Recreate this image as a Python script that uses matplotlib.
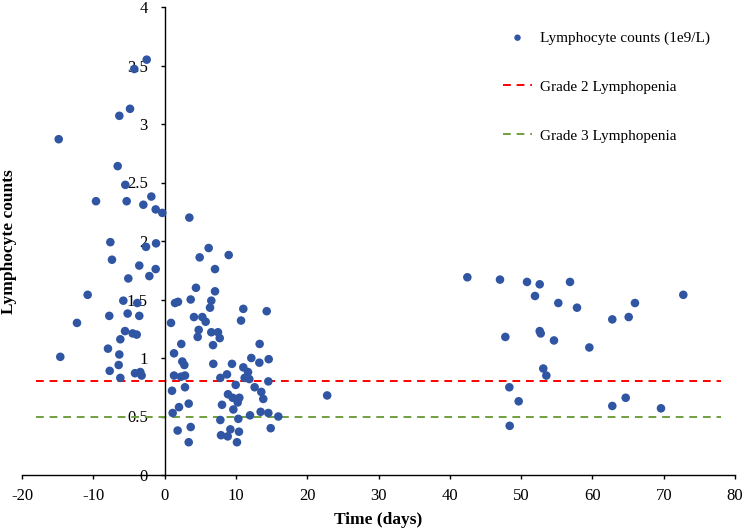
import matplotlib
matplotlib.use('Agg')
import matplotlib.pyplot as plt

# time (days) and lymphocyte counts
days = [-14.85, -14.63, -12.29, -10.79, -9.62, -7.94, -7.76, -7.70, -7.61, -7.38,
        -6.58, -6.44, -6.35, -6.35, -6.21, -6.21, -5.79, -5.55, -5.51, -5.32,
        -5.18, -5.09, -4.85, -4.48, -4.25, -4.15, -3.91, -3.83, -3.55, -3.55,
        -3.41, -3.22, -2.98, -2.61, -2.51, -2.14, -1.86, -1.25, -1.25, -1.20,
        -0.32, 0.90, 1.04, 1.13, 1.32, 1.32, 1.46, 1.83, 1.88, 2.02,
        2.30, 2.34, 2.48, 2.77, 2.86, 2.86, 3.38, 3.38, 3.47, 3.66,
        3.66, 4.12, 4.40, 4.64, 4.78, 4.92, 5.29, 5.76, 6.18, 6.37,
        6.55, 6.55, 6.79, 6.83, 7.07, 7.07, 7.49, 7.73, 7.82, 7.82,
        7.91, 8.05, 8.75, 8.85, 8.89, 8.99, 9.22, 9.45, 9.55, 9.64,
        9.97, 10.15, 10.25, 10.34, 10.43, 10.48, 10.72, 11.04, 11.04, 11.23,
        11.70, 11.88, 11.98, 12.16, 12.63, 13.29, 13.33, 13.47, 13.56, 13.84,
        14.32, 14.55, 14.55, 14.60, 14.88, 15.95, 22.8, 42.46, 47.04, 47.79,
        48.35, 48.40, 49.66, 50.83, 51.95, 52.61, 52.61, 52.75, 53.11, 53.54,
        54.61, 55.22, 56.86, 57.84, 59.57, 62.79, 62.79, 64.67, 65.09, 65.97,
        69.62, 72.75]
counts = [2.87, 1.01, 1.30, 1.54, 2.34, 1.08, 1.36, 0.89, 1.99, 1.84,
          2.64, 0.94, 3.07, 1.03, 1.16, 0.83, 1.49, 1.23, 2.48, 2.34,
          1.38, 1.68, 3.13, 1.21, 3.47, 0.87, 1.20, 1.47, 1.79, 1.36,
          0.88, 0.85, 2.31, 1.95, 3.55, 1.70, 2.38, 2.27, 1.76, 1.98,
          2.24, 1.30, 0.72, 0.53, 1.04, 0.85, 1.47, 0.38, 1.48, 0.58,
          0.84, 1.12, 0.97, 0.94, 0.85, 0.75, 0.61, 0.28, 2.20, 1.50,
          0.41, 1.35, 1.60, 1.18, 1.24, 1.86, 1.35, 1.31, 1.94, 1.43,
          1.49, 1.22, 1.11, 0.95, 1.76, 1.57, 1.22, 1.17, 0.83, 0.47,
          0.34, 0.60, 0.86, 0.33, 0.69, 1.88, 0.39, 0.95, 0.66, 0.56,
          0.77, 0.28, 0.62, 0.48, 0.37, 0.66, 1.32, 1.42, 0.92, 0.83,
          0.88, 0.82, 0.51, 1.00, 0.75, 0.96, 1.12, 0.54, 0.71, 0.65,
          1.40, 0.80, 0.53, 0.99, 0.40, 0.50, 0.68, 1.69, 1.67, 1.18,
          0.75, 0.42, 0.63, 1.65, 1.53, 1.63, 1.23, 1.21, 0.91, 0.85,
          1.15, 1.47, 1.65, 1.43, 1.09, 1.33, 0.59, 0.66, 1.35, 1.47,
          0.57, 1.54]

grade2 = 0.8
grade3 = 0.5
line_span = [-18, 78]
x_ticks = [-20, -10, 0, 10, 20, 30, 40, 50, 60, 70, 80]
y_ticks = [0, 0.5, 1, 1.5, 2, 2.5, 3, 3.5, 4]
y_tick_labels = ['0', '0.5', '1', '1.5', '2', '2.5', '3', '3.5', '4']

plt.rcParams['font.family'] = ['Liberation Serif', 'DejaVu Serif']
plt.rcParams['axes.unicode_minus'] = False

fig = plt.figure(figsize=(7.45, 5.31), dpi=100)
ax = fig.add_axes([22 / 745, 1 - 475 / 531, (735 - 22) / 745, (475 - 7) / 531])

ax.scatter(days, counts, s=38, color='#2F55A3', edgecolors='none', zorder=3,
           label='Lymphocyte counts (1e9/L)')
ax.plot(line_span, [grade2, grade2], color='#FF0000', lw=1.4, dashes=(4, 3),
        label='Grade 2 Lymphopenia')
ax.plot(line_span, [grade3, grade3], color='#70A040', lw=1.4, dashes=(4, 3),
        label='Grade 3 Lymphopenia')

ax.set_xlim(-20, 80)
ax.set_ylim(0, 4)
ax.set_xticks(x_ticks)
ax.set_xticklabels([str(t) for t in x_ticks])
ax.set_yticks(y_ticks)
ax.set_yticklabels(y_tick_labels)
ax.spines['left'].set_position(('data', 0))
ax.spines['top'].set_visible(False)
ax.spines['right'].set_visible(False)
for s in ['left', 'bottom']:
    ax.spines[s].set_linewidth(1.0)
ax.tick_params(direction='out', length=3, width=1.0, labelsize=12)
ax.tick_params(axis='x', pad=6)
ax.tick_params(axis='y', pad=9)

ax.set_xlabel('Time (days)', fontsize=12.5, fontweight='bold', labelpad=6)
fig.text(9.5 / 745, 1 - 242 / 531, 'Lymphocyte counts', rotation=90,
         fontsize=12.5, fontweight='bold', ha='center', va='center')

leg = ax.legend(loc='upper left', bbox_to_anchor=((503 - 22) / 713, 1 - 24 / 468),
                frameon=False, fontsize=11, labelspacing=2.3, handlelength=1.9,
                handletextpad=0.5, borderpad=0, borderaxespad=0, markerscale=0.75)

fig.savefig('out.png', dpi=100)
